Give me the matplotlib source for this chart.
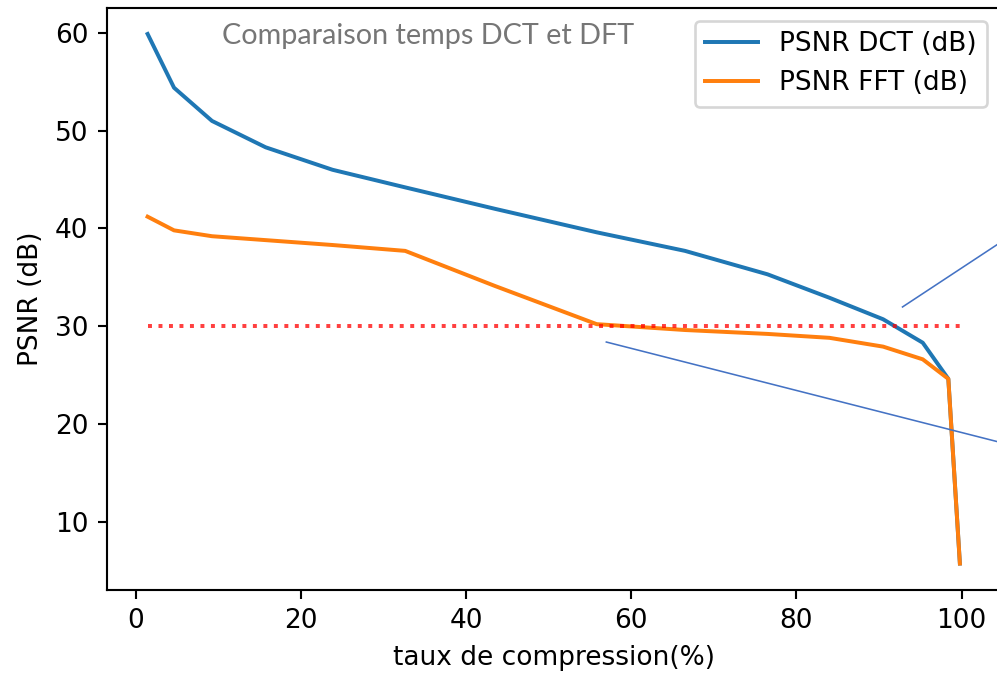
import matplotlib
matplotlib.use("Agg")
import matplotlib.pyplot as plt

# Compression rate (%) and PSNR (dB) for each transform
taux = [1.4, 4.6, 9.2, 15.7, 23.8, 32.6, 43.5, 55.8, 66.5, 76.5, 84.0, 90.5, 95.3, 98.4, 99.8]
psnr_dct = [59.9, 54.4, 51.0, 48.3, 46.0, 44.2, 42.0, 39.6, 37.7, 35.3, 32.9, 30.7, 28.3, 24.6, 5.7]
psnr_fft = [41.2, 39.8, 39.2, 38.8, 38.3, 37.7, 34.1, 30.2, 29.6, 29.2, 28.8, 27.9, 26.6, 24.6, 5.7]

seuil = 30  # quality threshold (dB)

# Callout pointers (x, y in data units)
pointeur_dct_x = [92.85, 104.6]
pointeur_dct_y = [31.96, 38.5]
pointeur_fft_x = [56.97, 104.6]
pointeur_fft_y = [28.37, 18.12]

DPI = 190
fig = plt.figure(figsize=(997 / DPI, 676 / DPI), dpi=DPI)
ax = fig.add_axes([107 / 997, 86 / 676, (1000.5 - 107) / 997, (590 - 7.5) / 676])

ax.plot(taux, psnr_dct, label="PSNR DCT (dB)")
ax.plot(taux, psnr_fft, label="PSNR FFT (dB)")
ax.hlines(seuil, taux[0], taux[-1], colors="r", linestyles=":", alpha=0.75)

ax.set_xlabel("taux de compression(%)")
ax.set_ylabel("PSNR (dB)")
ax.legend(loc="upper right")
# the right frame edge sits past the canvas border
ax.spines["right"].set_visible(False)

# Freeze the limits so the callouts do not widen the view
ax.set_xlim(ax.get_xlim())
ax.set_ylim(ax.get_ylim())
ax.plot(pointeur_dct_x, pointeur_dct_y, color="#4472C4", lw=0.6)
ax.plot(pointeur_fft_x, pointeur_fft_y, color="#4472C4", lw=0.6)

fig.text(428 / 997, 1 - 36 / 676, "Comparaison temps DCT et DFT",
         ha="center", va="center", family="Lato", fontsize=10.9, color="#767676")

fig.savefig("out.png", dpi=DPI)
